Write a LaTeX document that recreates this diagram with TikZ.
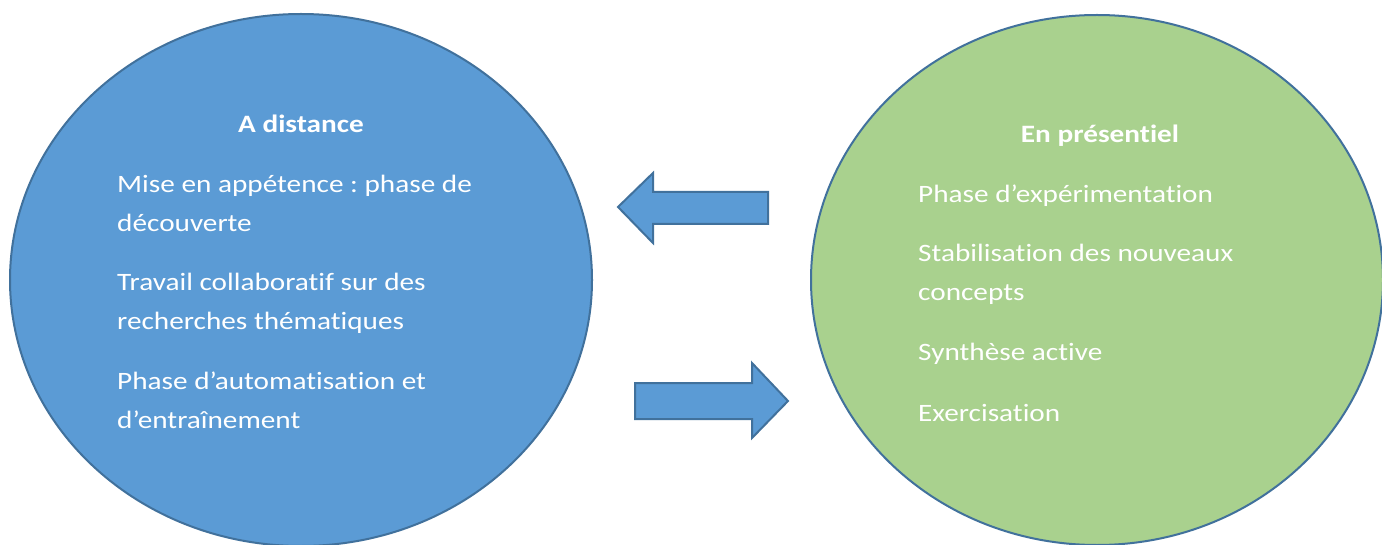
\documentclass[tikz,border=0pt]{standalone}
\usepackage{fontspec}
\setmainfont{Carlito}[FakeStretch=1.17,Ligatures=NoCommon]
\frenchspacing
\definecolor{blfill}{HTML}{5B9BD5}
\definecolor{grfill}{HTML}{A9D18E}
\definecolor{edge}{HTML}{41719C}
\begin{document}
\begin{tikzpicture}[x=1pt,y=-1pt,
  bubble/.style={draw=edge,line width=2pt},
  blockarrow/.style={draw=edge,fill=blfill,line width=2pt,line join=miter},
  txt/.style={text=white,inner sep=0pt,anchor=base west,font=\fontsize{25}{30}\selectfont\frenchspacing},
  ttl/.style={text=white,inner sep=0pt,anchor=base,font=\fontsize{25}{30}\selectfont\bfseries}]
\useasboundingbox (0,0) rectangle (1382,545);
\fill[white] (0,0) rectangle (1382,545);
% ellipses
\draw[bubble,fill=blfill] (301,280) ellipse [x radius=291, y radius=266];
\draw[bubble,fill=grfill] (1097,280) ellipse [x radius=286, y radius=265];
% block arrows
\draw[blockarrow] (768,192) -- (653,192) -- (653,173) -- (618,207) -- (653,243) -- (653,224) -- (768,224) -- cycle;
\draw[blockarrow] (635,383) -- (752,383) -- (752,363) -- (788,401) -- (752,438) -- (752,419) -- (635,419) -- cycle;
% left texts
\node[ttl] (lt) at (301,133) {A distance};
\node[txt] (l1) at (117,193) {Mise en appétence : phase de};
\node[txt] (l2) at (117,232) {découverte};
\node[txt] (l3) at (117,291) {Travail collaboratif sur des};
\node[txt] (l4) at (117,330) {recherches thématiques};
\node[txt] (l5) at (117,389) {Phase d’automatisation et};
\node[txt] (l6) at (117,428) {d’entraînement};
% right texts
\node[ttl] (rt) at (1100,143) {En présentiel};
\node[txt] (r1) at (918,203) {Phase d’expérimentation};
\node[txt] (r2) at (918,262) {Stabilisation des nouveaux};
\node[txt] (r3) at (918,301) {concepts};
\node[txt] (r4) at (918,361) {Synthèse active};
\node[txt] (r5) at (918,421) {Exercisation};
\end{tikzpicture}
\end{document}
